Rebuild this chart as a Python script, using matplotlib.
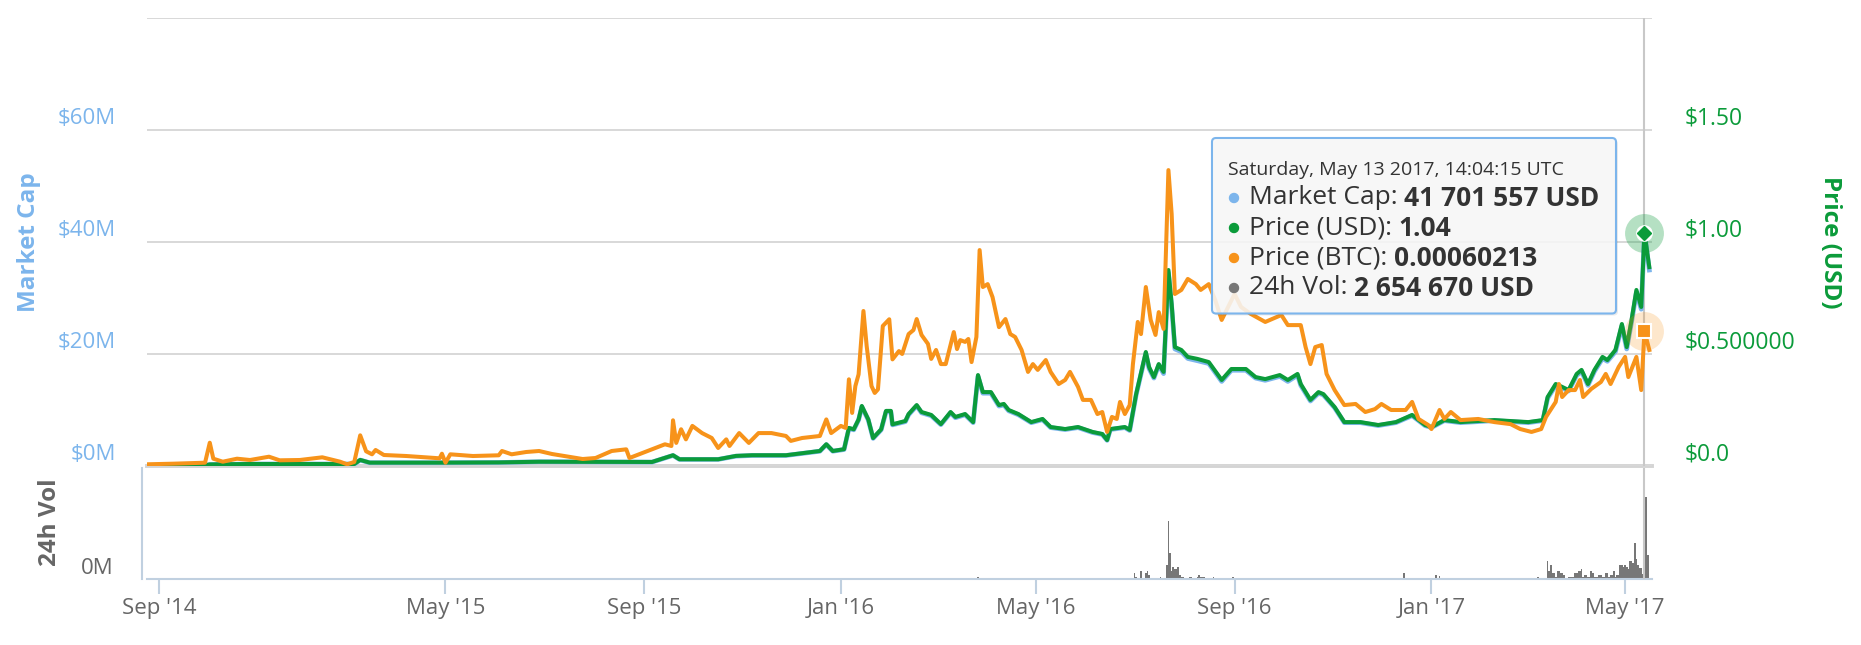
import numpy as np
import matplotlib
matplotlib.use('Agg')
import matplotlib.pyplot as plt
import matplotlib.dates as mdates
from matplotlib.patches import FancyBboxPatch, Circle
from matplotlib.text import Annotation
from matplotlib.transforms import offset_copy

plt.rcParams['font.family'] = ['Open Sans', 'DejaVu Sans']

W, H, DPI = 1861, 645, 100

BLUE = '#7cb5ec'
GREEN = '#0b9b3a'
ORANGE = '#f7931a'
GRAY = '#777777'
AXIS = '#c0d0e0'

# ---- data ----
usd_dates = [
    '2014-08-22', '2014-10-10', '2014-10-14', '2014-11-17', '2015-02-01', '2015-02-13',
    '2015-02-18', '2015-02-26', '2015-04-26', '2015-06-03', '2015-06-28', '2015-09-06',
    '2015-09-19', '2015-09-23', '2015-10-17', '2015-10-28', '2015-11-07', '2015-11-28',
    '2015-12-19', '2015-12-23', '2015-12-27', '2016-01-03', '2016-01-06', '2016-01-09',
    '2016-01-12', '2016-01-14', '2016-01-18', '2016-01-21', '2016-01-26', '2016-01-29',
    '2016-02-01', '2016-02-02', '2016-02-10', '2016-02-12', '2016-02-17', '2016-02-20',
    '2016-02-26', '2016-03-03', '2016-03-09', '2016-03-12', '2016-03-18', '2016-03-23',
    '2016-03-26', '2016-03-29', '2016-04-03', '2016-04-08', '2016-04-11', '2016-04-14',
    '2016-04-20', '2016-04-28', '2016-05-05', '2016-05-10', '2016-05-19', '2016-05-27',
    '2016-06-05', '2016-06-11', '2016-06-14', '2016-06-16', '2016-06-25', '2016-06-28',
    '2016-07-02', '2016-07-08', '2016-07-10', '2016-07-13', '2016-07-16', '2016-07-19',
    '2016-07-22', '2016-07-24', '2016-07-26', '2016-07-30', '2016-08-03', '2016-08-09',
    '2016-08-16', '2016-08-24', '2016-08-30', '2016-09-08', '2016-09-14', '2016-09-20',
    '2016-09-29', '2016-10-04', '2016-10-10', '2016-10-12', '2016-10-18', '2016-10-23',
    '2016-10-26', '2016-11-02', '2016-11-08', '2016-11-18', '2016-11-29', '2016-12-10',
    '2016-12-20', '2016-12-28', '2017-01-01', '2017-01-09', '2017-01-19', '2017-02-09',
    '2017-03-02', '2017-03-11', '2017-03-14', '2017-03-19', '2017-03-23', '2017-03-27',
    '2017-04-01', '2017-04-04', '2017-04-08', '2017-04-12', '2017-04-17', '2017-04-20',
    '2017-04-25', '2017-04-29', '2017-05-02', '2017-05-05', '2017-05-08', '2017-05-11',
    '2017-05-13', '2017-05-16',
]
price_usd = [
    0.002, 0.003, 0.007, 0.009, 0.009, 0.009,
    0.027, 0.015, 0.015, 0.016, 0.019, 0.018,
    0.048, 0.030, 0.030, 0.045, 0.048, 0.048,
    0.067, 0.097, 0.067, 0.075, 0.170, 0.164,
    0.208, 0.268, 0.208, 0.125, 0.164, 0.246,
    0.246, 0.186, 0.201, 0.232, 0.272, 0.241,
    0.228, 0.187, 0.241, 0.219, 0.232, 0.196,
    0.406, 0.330, 0.330, 0.272, 0.277, 0.250,
    0.232, 0.196, 0.210, 0.174, 0.165, 0.174,
    0.152, 0.143, 0.116, 0.165, 0.174, 0.161,
    0.321, 0.509, 0.442, 0.397, 0.455, 0.420,
    0.875, 0.723, 0.531, 0.518, 0.487, 0.478,
    0.464, 0.384, 0.433, 0.433, 0.397, 0.388,
    0.406, 0.384, 0.411, 0.366, 0.295, 0.330,
    0.321, 0.263, 0.196, 0.196, 0.183, 0.196,
    0.228, 0.183, 0.174, 0.205, 0.196, 0.205,
    0.196, 0.205, 0.308, 0.366, 0.353, 0.339,
    0.411, 0.429, 0.366, 0.429, 0.487, 0.473,
    0.518, 0.634, 0.531, 0.652, 0.786, 0.710,
    1.04, 0.888,
]
mcap_musd = [
    0.07, 0.12, 0.26, 0.35, 0.35, 0.35,
    1.06, 0.58, 0.58, 0.62, 0.76, 0.70,
    1.88, 1.18, 1.18, 1.76, 1.88, 1.88,
    2.64, 3.82, 2.64, 2.94, 6.69, 6.46,
    8.22, 10.56, 8.22, 4.93, 6.46, 9.68,
    9.68, 7.34, 7.92, 9.15, 10.74, 9.50,
    8.98, 7.39, 9.50, 8.62, 9.15, 7.74,
    16.0, 13.0, 13.0, 10.7, 10.9, 9.86,
    9.15, 7.74, 8.27, 6.86, 6.51, 6.86,
    5.98, 5.63, 4.58, 6.51, 6.86, 6.34,
    12.7, 20.1, 17.4, 15.7, 18.0, 16.5,
    34.5, 28.5, 20.9, 20.4, 19.2, 18.8,
    18.3, 15.1, 17.1, 17.1, 15.7, 15.3,
    16.0, 15.1, 16.2, 14.4, 11.6, 13.0,
    12.7, 10.4, 7.74, 7.74, 7.22, 7.74,
    8.98, 7.22, 6.86, 8.10, 7.74, 8.10,
    7.74, 8.10, 12.1, 14.4, 13.9, 13.4,
    16.2, 16.9, 14.4, 16.9, 19.2, 18.7,
    20.4, 25.0, 20.9, 25.7, 31.0, 28.0,
    41.70, 35.0,
]

btc_dates = [
    '2014-08-22', '2014-09-13', '2014-10-10', '2014-10-14', '2014-10-17', '2014-10-25',
    '2014-11-06', '2014-11-17', '2014-12-03', '2014-12-12', '2014-12-29', '2015-01-17',
    '2015-02-01', '2015-02-07', '2015-02-13', '2015-02-18', '2015-02-23', '2015-02-28',
    '2015-03-03', '2015-03-10', '2015-03-29', '2015-04-26', '2015-04-28', '2015-05-01',
    '2015-05-04', '2015-05-18', '2015-06-03', '2015-06-05', '2015-06-11', '2015-06-20',
    '2015-06-28', '2015-07-06', '2015-07-25', '2015-08-02', '2015-08-12', '2015-08-21',
    '2015-08-23', '2015-09-06', '2015-09-14', '2015-09-18', '2015-09-19', '2015-09-21',
    '2015-09-24', '2015-09-27', '2015-10-01', '2015-10-07', '2015-10-13', '2015-10-17',
    '2015-10-22', '2015-10-24', '2015-10-30', '2015-11-05', '2015-11-11', '2015-11-19',
    '2015-11-28', '2015-12-01', '2015-12-08', '2015-12-19', '2015-12-23', '2015-12-26',
    '2016-01-01', '2016-01-04', '2016-01-06', '2016-01-08', '2016-01-10', '2016-01-12',
    '2016-01-15', '2016-01-17', '2016-01-20', '2016-01-22', '2016-01-24', '2016-01-27',
    '2016-01-31', '2016-02-02', '2016-02-06', '2016-02-08', '2016-02-12', '2016-02-15',
    '2016-02-17', '2016-02-20', '2016-02-24', '2016-02-26', '2016-02-29', '2016-03-03',
    '2016-03-06', '2016-03-11', '2016-03-13', '2016-03-15', '2016-03-18', '2016-03-20',
    '2016-03-22', '2016-03-25', '2016-03-27', '2016-03-29', '2016-04-01', '2016-04-04',
    '2016-04-08', '2016-04-12', '2016-04-15', '2016-04-18', '2016-04-22', '2016-04-26',
    '2016-04-29', '2016-05-02', '2016-05-07', '2016-05-10', '2016-05-15', '2016-05-19',
    '2016-05-22', '2016-05-27', '2016-05-30', '2016-06-04', '2016-06-08', '2016-06-11',
    '2016-06-14', '2016-06-17', '2016-06-20', '2016-06-22', '2016-06-25', '2016-06-28',
    '2016-06-30', '2016-07-03', '2016-07-05', '2016-07-08', '2016-07-11', '2016-07-14',
    '2016-07-16', '2016-07-19', '2016-07-22', '2016-07-24', '2016-07-26', '2016-07-30',
    '2016-08-03', '2016-08-08', '2016-08-11', '2016-08-16', '2016-08-20', '2016-08-24',
    '2016-08-28', '2016-09-01', '2016-09-05', '2016-09-11', '2016-09-20', '2016-09-30',
    '2016-10-04', '2016-10-12', '2016-10-15', '2016-10-18', '2016-10-21', '2016-10-25',
    '2016-10-28', '2016-11-02', '2016-11-08', '2016-11-15', '2016-11-21', '2016-11-27',
    '2016-12-01', '2016-12-07', '2016-12-16', '2016-12-20', '2016-12-24', '2016-12-30',
    '2017-01-01', '2017-01-06', '2017-01-09', '2017-01-13', '2017-01-19', '2017-01-30',
    '2017-02-09', '2017-02-19', '2017-02-25', '2017-03-04', '2017-03-10', '2017-03-13',
    '2017-03-19', '2017-03-21', '2017-03-23', '2017-03-27', '2017-03-31', '2017-04-03',
    '2017-04-05', '2017-04-10', '2017-04-16', '2017-04-19', '2017-04-22', '2017-04-27',
    '2017-05-01', '2017-05-03', '2017-05-08', '2017-05-11', '2017-05-13', '2017-05-16',
]
# price in micro-BTC
price_btc_ubtc = [
    7.6, 10.3, 14.7, 104, 32.6, 19.2,
    32.6, 26.8, 41.5, 25.4, 26.8, 38.8,
    19.2, 7.6, 17.9, 137, 65.6, 52.2,
    71.4, 49.1, 44.6, 34.4, 54.9, 14.7,
    52.2, 44.6, 47.8, 67, 52.2, 62.5,
    67, 53.6, 31.2, 35.7, 67, 74.5,
    35.7, 74.5, 96.9, 89.3, 204, 103,
    164, 119, 179, 147, 125, 80.4,
    119, 89.3, 147, 103, 147, 147,
    134, 112, 125, 134, 208, 147,
    179, 170, 387, 237, 357, 409,
    692, 536, 357, 326, 342, 625,
    655, 476, 513, 500, 589, 607,
    656, 585, 545, 478, 518, 455,
    455, 598, 522, 562, 554, 567,
    464, 576, 964, 799, 812, 754,
    620, 656, 589, 576, 518, 420,
    455, 429, 473, 420, 366, 384,
    420, 353, 295, 295, 232, 241,
    152, 219, 210, 286, 232, 272,
    455, 643, 589, 799, 652, 585,
    687, 612, 1321, 1125, 768, 786,
    835, 812, 786, 812, 741, 652,
    710, 768, 710, 679, 643, 674,
    629, 629, 531, 455, 531, 540,
    411, 339, 272, 277, 241, 254,
    277, 250, 250, 286, 210, 183,
    165, 250, 210, 241, 205, 210,
    196, 187, 165, 152, 165, 219,
    286, 366, 308, 339, 339, 384,
    308, 344, 375, 411, 366, 442,
    487, 397, 487, 339, 602.13, 518,
]

vol_dates = [
    '2016-03-26', '2016-07-01', '2016-07-02', '2016-07-05', '2016-07-08', '2016-07-09',
    '2016-07-10', '2016-07-17', '2016-07-21', '2016-07-22', '2016-07-23', '2016-07-24',
    '2016-07-25', '2016-07-26', '2016-07-27', '2016-07-28', '2016-07-29', '2016-07-30',
    '2016-07-31', '2016-08-04', '2016-08-05', '2016-08-09', '2016-08-10', '2016-08-11',
    '2016-08-12', '2016-08-13', '2016-08-19', '2016-08-31', '2016-12-15', '2017-01-04',
    '2017-01-06', '2017-03-08', '2017-03-14', '2017-03-15', '2017-03-16', '2017-03-17',
    '2017-03-18', '2017-03-19', '2017-03-20', '2017-03-21', '2017-03-22', '2017-03-23',
    '2017-03-24', '2017-03-27', '2017-03-28', '2017-03-29', '2017-03-30', '2017-03-31',
    '2017-04-01', '2017-04-02', '2017-04-03', '2017-04-04', '2017-04-05', '2017-04-06',
    '2017-04-07', '2017-04-08', '2017-04-09', '2017-04-10', '2017-04-11', '2017-04-12',
    '2017-04-13', '2017-04-14', '2017-04-15', '2017-04-16', '2017-04-17', '2017-04-18',
    '2017-04-19', '2017-04-20', '2017-04-21', '2017-04-22', '2017-04-23', '2017-04-24',
    '2017-04-25', '2017-04-26', '2017-04-27', '2017-04-28', '2017-04-29', '2017-04-30',
    '2017-05-01', '2017-05-02', '2017-05-03', '2017-05-04', '2017-05-05', '2017-05-06',
    '2017-05-07', '2017-05-08', '2017-05-09', '2017-05-10', '2017-05-11', '2017-05-12',
    '2017-05-13', '2017-05-14', '2017-05-15',
]
vol_musd = [
    0.08, 0.21, 0.06, 0.29, 0.21, 0.29,
    0.15, 0.06, 0.51, 2.13, 0.94, 0.30,
    0.43, 0.37, 0.37, 0.43, 0.15, 0.08,
    0.08, 0.06, 0.06, 0.06, 0.14, 0.06,
    0.06, 0.06, 0.06, 0.06, 0.21, 0.15,
    0.10, 0.08, 0.67, 0.30, 0.51, 0.23,
    0.23, 0.08, 0.29, 0.29, 0.21, 0.21,
    0.15, 0.06, 0.06, 0.06, 0.06, 0.21,
    0.21, 0.30, 0.30, 0.37, 0.06, 0.14,
    0.14, 0.06, 0.06, 0.29, 0.21, 0.06,
    0.06, 0.06, 0.14, 0.14, 0.06, 0.06,
    0.21, 0.21, 0.06, 0.14, 0.14, 0.29,
    0.06, 0.15, 0.15, 0.51, 0.51, 0.43,
    0.51, 0.43, 0.37, 0.67, 0.67, 0.58,
    1.31, 0.73, 0.51, 0.39, 0.39, 0.18,
    2.65, 3.02, 0.88,
]

tick_dates = ['2014-09-01', '2015-05-01', '2015-09-01', '2016-01-01',
              '2016-05-01', '2016-09-01', '2017-01-01', '2017-05-01']
tick_labels = ["Sep '14", "May '15", "Sep '15", "Jan '16",
               "May '16", "Sep '16", "Jan '17", "May '17"]
mcap_ticks = [0, 20, 40, 60, 80]
mcap_labels = ['$0M', '$20M', '$40M', '$60M', '']
price_ticks = [0, 0.5, 1.0, 1.5, 2.0]
price_labels = ['$0.0', '$0.500000', '$1.00', '$1.50', '']

hover_date = '2017-05-13'
tip_header = 'Saturday, May 13 2017, 14:04:15 UTC'
tip_rows = [('Market Cap: ', '41 701 557 USD', BLUE),
            ('Price (USD): ', '1.04', GREEN),
            ('Price (BTC): ', '0.00060213', ORANGE),
            ('24h Vol: ', '2 654 670 USD', GRAY)]

# ordinal-like axis: the period before May 2015 is squeezed
d_break = mdates.datestr2num('2015-05-01')
squeeze = 0.734


def fwd(x):
    x = np.asarray(x, dtype=float)
    return np.where(x < d_break, d_break + (x - d_break) * squeeze, x)


def inv(y):
    y = np.asarray(y, dtype=float)
    return np.where(y < d_break, d_break + (y - d_break) / squeeze, y)


def box(l, t, r, b):
    return [l / W, 1 - b / H, (r - l) / W, (b - t) / H]


def px(x, y):
    return (x / DPI, (H - y) / DPI)


fig = plt.figure(figsize=(W / DPI, H / DPI), dpi=DPI)
ax = fig.add_axes(box(147, 18, 1652, 466))
axv = fig.add_axes(box(147, 468, 1652, 579), sharex=ax)
axp = ax.twinx()
axb = ax.twinx()

ax.set_xscale('function', functions=(fwd, inv))
ax.set_xlim(mdates.datestr2num('2014-08-22'), mdates.datestr2num('2017-05-17 16:00'))

ud = mdates.datestr2num(usd_dates)
bd = mdates.datestr2num(btc_dates)
vd = mdates.datestr2num(vol_dates)
hx = mdates.datestr2num(hover_date)

# main panel
ax.plot(ud, mcap_musd, color=BLUE, lw=3.4, solid_joinstyle='round')
axp.plot(ud, price_usd, color=GREEN, lw=2.9, solid_joinstyle='round')
axb.plot(bd, np.array(price_btc_ubtc) * 1e-6, color=ORANGE, lw=2.9,
         solid_joinstyle='round')

ax.set_ylim(0, 80)
axp.set_ylim(0, 2.0)
axb.set_ylim(0, 0.002)

ax.set_yticks(mcap_ticks)
ax.grid(axis='y', color='#d8d8d8', lw=1.4)
ax.set_axisbelow(True)
ax.axhline(0, color='#d4d4d4', lw=2.8, zorder=0.5, clip_on=False)
ax.axvline(hx, color='#c8c8c8', lw=1.5, zorder=0.6)
ax.tick_params(axis='both', length=0, labelleft=False, labelbottom=False)
for a in (ax, axp, axb):
    for s in a.spines.values():
        s.set_visible(False)
axp.set_yticks([])
axb.set_yticks([])

left_tr = offset_copy(ax.get_yaxis_transform(), fig=fig, x=-31, y=12, units='dots')
for v, s in zip(mcap_ticks, mcap_labels):
    ax.text(0, v, s, transform=left_tr, ha='right', va='center',
            color=BLUE, fontsize=16)
right_tr = offset_copy(axp.get_yaxis_transform(), fig=fig, x=33, y=12, units='dots')
for v, s in zip(price_ticks, price_labels):
    axp.text(1, v, s, transform=right_tr, ha='left', va='center',
             color=GREEN, fontsize=16.5)

# hovered point markers
i_usd = usd_dates.index(hover_date)
i_btc = btc_dates.index(hover_date)
hv_btc = price_btc_ubtc[i_btc] * 1e-6
axb.plot(hx, hv_btc, 'o', ms=28, color=ORANGE, alpha=0.22, mec='none', clip_on=False)
axp.plot(hx, price_usd[i_usd], 'o', ms=28, color=GREEN, alpha=0.3, mec='none', clip_on=False)
axp.plot(hx, price_usd[i_usd], 'o', ms=12, color='white', mec='none', clip_on=False)
axp.plot(hx, price_usd[i_usd], 'D', ms=7.5, color=GREEN, mec=GREEN, clip_on=False)
axb.plot(hx, hv_btc, 's', ms=10.5, color=ORANGE, mec='white', mew=1.5, clip_on=False)

# volume panel
axv.bar(vd, vol_musd, width=1.0, color=GRAY, align='center', lw=0)
axv.set_ylim(0, 4.07)
axv.axvline(hx, color='#c8c8c8', lw=1.5, zorder=3)
axv.set_yticks([])
for s in ('top', 'right'):
    axv.spines[s].set_visible(False)
for s in ('left', 'bottom'):
    axv.spines[s].set_color(AXIS)
    axv.spines[s].set_linewidth(1.5)
axv.spines['left'].set_position(('outward', 3.6))
axv.set_xticks(mdates.datestr2num(tick_dates))
axv.set_xticklabels(tick_labels)
axv.tick_params(axis='x', direction='out', length=11, width=1.5, color=AXIS,
                labelsize=16, labelcolor='#666666', pad=3)
ax.tick_params(axis='x', length=0, labelbottom=False)

vol_tr = offset_copy(axv.get_yaxis_transform(), fig=fig, x=-34, y=11, units='dots')
axv.text(0, 0, '0M', transform=vol_tr, ha='right', va='center',
         color='#666666', fontsize=16)

# axis titles
fig.text(29 / W, 1 - 242.5 / H, 'Market Cap', rotation=90, ha='center', va='center',
         color=BLUE, fontsize=17.5, fontweight='bold')
fig.text(50 / W, 1 - 522 / H, '24h Vol', rotation=90, ha='center', va='center',
         color='#666666', fontsize=17.5, fontweight='bold')
fig.text(1830 / W, 1 - 242.5 / H, 'Price (USD)', rotation=270, ha='center', va='center',
         color=GREEN, fontsize=17.5, fontweight='bold')

# tooltip
tl, tt, tr, tb = 1212, 138, 1616, 313.5
shadow = FancyBboxPatch(px(tl + 2, tb + 2), (tr - tl) / DPI, (tb - tt) / DPI,
                        boxstyle='round,pad=0,rounding_size=0.04',
                        transform=fig.dpi_scale_trans, fc=(0, 0, 0, 0.08), ec='none',
                        zorder=9)
tip = FancyBboxPatch(px(tl, tb), (tr - tl) / DPI, (tb - tt) / DPI,
                     boxstyle='round,pad=0,rounding_size=0.04',
                     transform=fig.dpi_scale_trans, fc=(0.975, 0.975, 0.975, 0.88),
                     ec=BLUE, lw=1.5, zorder=10)
fig.add_artist(shadow)
fig.add_artist(tip)
fig.text(1228 / W, 1 - 170 / H, tip_header, ha='left', va='center',
         fontsize=14, color='#333333', zorder=11)
for k, (name, val, col) in enumerate(tip_rows):
    yy = 198 + 30 * k
    fig.add_artist(Circle(px(1234, yy), 0.045, transform=fig.dpi_scale_trans,
                          color=col, zorder=11))
    lab = fig.text(1249 / W, 1 - yy / H, name, ha='left', va='center',
                   fontsize=19, color='#333333', zorder=11)
    fig.add_artist(Annotation(val, xy=(1, 0.5), xycoords=lab, ha='left', va='center',
                              fontsize=19, fontweight='bold', color='#333333',
                              zorder=11))

fig.savefig('out.png', dpi=DPI)
